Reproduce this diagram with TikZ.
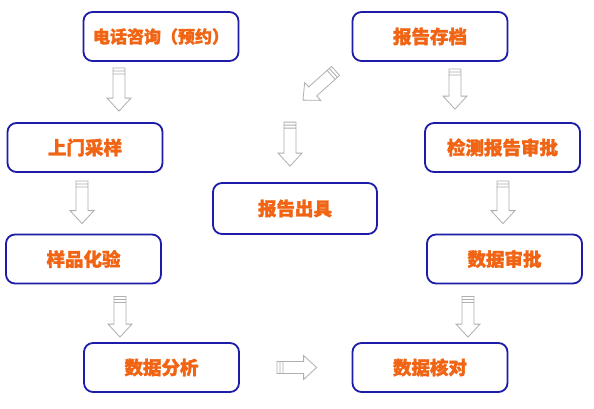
\documentclass[tikz,border=0pt]{standalone}
\usepackage{fontspec}
\newfontfamily\cjk[BoldFeatures={FakeBold=1.5}]{Noto Sans CJK SC}
\usetikzlibrary{calc}
\definecolor{boxblue}{RGB}{28,28,168}
\definecolor{labelorange}{RGB}{240,100,20}
\definecolor{arrowgray}{RGB}{175,175,175}
\tikzset{
  stepbox/.style={draw=boxblue, line width=1.8pt, rounded corners=9pt, fill=white,
    minimum width=155pt, minimum height=49pt, text=labelorange,
    font=\cjk\bfseries\fontsize{18.5}{18.5}\selectfont},
  hollow/.style={draw=arrowgray, line width=0.8pt, fill=white, line join=miter}
}
% hollow block arrow from #1 (tail) to #2 (tip)
\newcommand\hollowarrow[2]{%
  \draw[hollow] let \p1=(#1), \p2=(#2), \n1={atan2(\y2-\y1,\x2-\x1)} in
    ($(\p1)+({\n1+90}:6pt)$) -- ($(\p2)+(\n1:-13pt)+({\n1+90}:6pt)$)
    -- ($(\p2)+(\n1:-13pt)+({\n1+90}:12pt)$) -- (\p2)
    -- ($(\p2)+(\n1:-13pt)+({\n1-90}:12pt)$) -- ($(\p2)+(\n1:-13pt)+({\n1-90}:6pt)$)
    -- ($(\p1)+({\n1-90}:6pt)$) -- cycle
    ($(\p1)+(\n1:3pt)+({\n1+90}:6pt)$) -- ($(\p1)+(\n1:3pt)+({\n1-90}:6pt)$)
    ($(\p1)+(\n1:6pt)+({\n1+90}:6pt)$) -- ($(\p1)+(\n1:6pt)+({\n1-90}:6pt)$);}
\begin{document}
\begin{tikzpicture}[x=1pt, y=-1pt]
  \useasboundingbox[fill=white] (0,0) rectangle (594,408);
  % left column and bottom row
  \node[stepbox, font=\cjk\bfseries\fontsize{17}{17}\selectfont] (call) at (161,36.5) {电话咨询（预约）};
  \node[stepbox] (visit) at (85,147.5) {上门采样};
  \node[stepbox] (test) at (83.5,259) {样品化验};
  \node[stepbox] (analyze) at (161.5,367.5) {数据分析};
  \node[stepbox] (check) at (430,367.5) {数据核对};
  % right column
  \node[stepbox] (dataok) at (504.5,259) {数据审批};
  \node[stepbox] (approve) at (502.5,147.5) {检测报告审批};
  \node[stepbox] (archive) at (430,36.5) {报告存档};
  \node[stepbox, minimum width=164pt, minimum height=51pt] (issue) at (295,208.5) {报告出具};
%
  \hollowarrow{[shift={(-42,6)}]call.south}{[shift={(34,-11)}]visit.north}
  \hollowarrow{[shift={(-3,8)}]visit.south}{[shift={(-1.5,-10)}]test.north}
  \hollowarrow{[shift={(36.5,12)}]test.south}{[shift={(-41.5,-5)}]analyze.north}
  \hollowarrow{[shift={(37,0)}]analyze.east}{[shift={(-35,0)}]check.west}
  \hollowarrow{[shift={(-36.5,12)}]dataok.south}{[shift={(38,-5)}]check.north}
  \hollowarrow{[shift={(0.5,8)}]approve.south}{[shift={(-1.5,-10)}]dataok.north}
  \hollowarrow{[shift={(25,7)}]archive.south}{[shift={(-47.5,-13)}]approve.north}
  \hollowarrow{[shift={(-16,9)}]archive.south west}{[shift={(8,-82)}]issue.north}
  \hollowarrow{[shift={(-5,-60)}]issue.north}{[shift={(-5,-16)}]issue.north}
\end{tikzpicture}
\end{document}
